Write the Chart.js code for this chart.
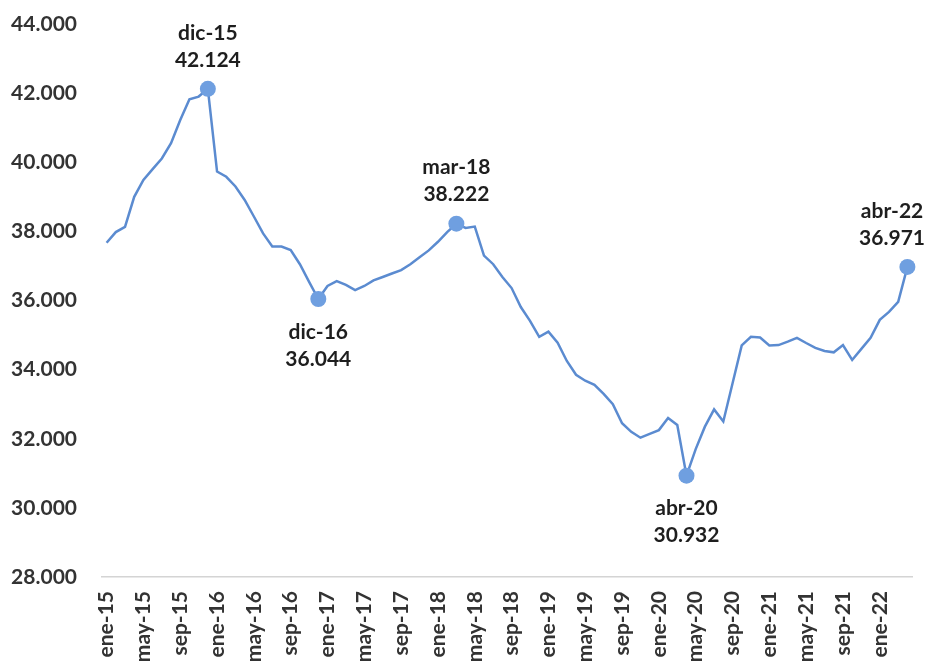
<!DOCTYPE html>
<html>
<head>
<meta charset="utf-8">
<script src="https://cdn.jsdelivr.net/npm/chart.js@4/dist/chart.umd.min.js"></script>
<style>
  html, body { margin: 0; padding: 0; background: #fff; }
  #wrap { width: 926px; height: 666px; }
</style>
</head>
<body>
<div id="wrap"><canvas id="mycanvas" width="926" height="666"></canvas></div>
<script>
// months and years for the category axis
var months = ['ene','feb','mar','abr','may','jun','jul','ago','sep','oct','nov','dic'];
var years = ['15','16','17','18','19','20','21','22'];

// monthly values, ene-15 .. abr-22
var values = [
  37670, 37980, 38130, 39000, 39490, 39800, 40110, 40550, 41220, 41820, 41900, 42124,
  39730, 39580, 39300, 38910, 38430, 37940, 37560, 37560, 37460, 37050, 36540, 36044,
  36420, 36560, 36450, 36300, 36420, 36580, 36680, 36780, 36880, 37050, 37250, 37450,
  37700, 37980, 38222, 38100, 38140, 37300, 37050, 36680, 36360, 35810, 35410, 34950,
  35100, 34780, 34250, 33850, 33680, 33560, 33300, 33000, 32450, 32200, 32030, 32140,
  32250, 32600, 32400, 30932, 31700, 32350, 32850, 32500, 33600, 34700, 34950, 34930,
  34700, 34710, 34810, 34920, 34770, 34630, 34540, 34500, 34710, 34280, 34600, 34920,
  35440, 35670, 35960, 36971
];

// highlighted points and where their label goes
var highlightIdx = [11, 23, 38, 63, 87];
var highlightPos = ['above', 'below', 'above', 'below', 'above'];

var yMin = 28000, yMax = 44000, yStep = 2000;

var labels = [];
for (var y in years) {
  for (var m in months) {
    labels.push(months[m] + '-' + years[y]);
  }
}
labels = labels.slice(0, values.length);

function fmt(v) {
  return String(Math.round(v)).replace(/\B(?=(\d{3})+(?!\d))/g, '.');
}

var radii = values.map(function(v, i) { return highlightIdx.indexOf(i) >= 0 ? 8 : 0; });

var FONT = 'Lato, "Open Sans", sans-serif';

var peakLabels = {
  id: 'peakLabels',
  afterDatasetsDraw: function(chart) {
    var ctx = chart.ctx;
    var meta = chart.getDatasetMeta(0);
    ctx.save();
    ctx.font = 'bold 21px ' + FONT;
    ctx.fillStyle = '#1e1e1e';
    ctx.textAlign = 'center';
    ctx.textBaseline = 'middle';
    for (var k = 0; k < highlightIdx.length; k++) {
      var i = highlightIdx[k];
      var pt = meta.data[i];
      var l1 = labels[i], l2 = fmt(values[i]);
      // keep the label inside the canvas, like Excel does
      var half = Math.max(ctx.measureText(l1).width, ctx.measureText(l2).width) / 2;
      var x = Math.min(pt.x, chart.width - half - 1);
      if (highlightPos[k] == 'above') {
        ctx.fillText(l1, x, pt.y - 56);
        ctx.fillText(l2, x, pt.y - 29);
      } else {
        ctx.fillText(l1, x, pt.y + 33);
        ctx.fillText(l2, x, pt.y + 60);
      }
    }
    ctx.restore();
  }
};

var chartdata = {
  labels: labels,
  datasets: [{
    data: values,
    borderColor: '#5b8bd0',
    borderWidth: 2.5,
    tension: 0,
    fill: false,
    pointRadius: radii,
    pointHoverRadius: radii,
    pointBackgroundColor: '#6f9fe0',
    pointBorderColor: '#6f9fe0',
    pointBorderWidth: 0
  }]
};

var ctx = document.getElementById('mycanvas');
var LineGraph = new Chart(ctx, {
  type: 'line',
  data: chartdata,
  plugins: [peakLabels],
  options: {
    responsive: false,
    animation: false,
    layout: { padding: { top: 24, right: 14, left: 0, bottom: 0 } },
    plugins: { legend: { display: false }, tooltip: { enabled: false } },
    scales: {
      x: {
        offset: true,
        grid: { display: false },
        border: { display: true, color: '#d4d4d4', width: 1.5 },
        ticks: {
          autoSkip: false,
          maxRotation: 90,
          minRotation: 90,
          padding: 6,
          color: '#333',
          font: { family: FONT, size: 21, weight: 'bold' },
          callback: function(val, idx) { return idx % 4 == 0 ? labels[idx] : ''; }
        },
        afterFit: function(scale) {
          scale.height = 89;
          scale.paddingLeft = 0;
          scale.paddingRight = 0;
        }
      },
      y: {
        min: yMin,
        max: yMax,
        grid: { display: false },
        border: { display: false },
        ticks: {
          stepSize: yStep,
          padding: 17,
          color: '#333',
          font: { family: FONT, size: 21, weight: 'bold' },
          callback: function(v) { return fmt(v); }
        },
        afterFit: function(scale) {
          scale.width = 102;
          scale.paddingTop = 0;
          scale.paddingBottom = 0;
        }
      }
    }
  }
});
</script>
</body>
</html>
